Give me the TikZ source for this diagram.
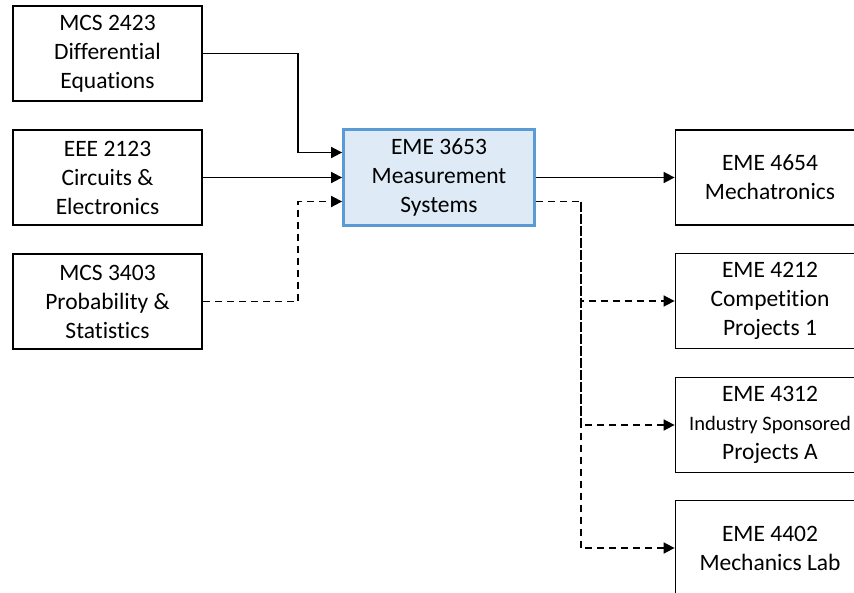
\documentclass[tikz,border=0pt]{standalone}
\usepackage{fontspec}
\setmainfont{Carlito}[Ligatures=NoCommon]
\usetikzlibrary{arrows.meta}

\definecolor{boxblue}{HTML}{5B9BD5}
\definecolor{boxfill}{HTML}{DEEBF7}

\tikzset{
  course/.style={draw=black, line width=1.8pt, fill=white, minimum width=189pt,
    minimum height=95pt, align=center, inner sep=2pt,
    font=\fontsize{23.5}{29}\selectfont},
  focus/.style={course, draw=boxblue, fill=boxfill, line width=2.8pt,
    minimum width=191pt, minimum height=96pt},
  link/.style={line width=1.7pt, -{Triangle[length=11pt,width=11pt]}},
  soft/.style={link, dash pattern=on 7pt off 5pt}
}

\begin{document}
\begin{tikzpicture}[x=1pt, y=-1pt]
  \useasboundingbox (0,0) rectangle (854,592);
  \clip (0,0) rectangle (854,592);

  % prerequisites
  \node[course] (mcs2423) at (107.5,53.5) {MCS 2423\\Differential\\Equations};
  \node[course] (eee2123) at (107.5,177.5) {EEE 2123\\Circuits \&\\Electronics};
  \node[course] (mcs3403) at (107.5,301.5) {MCS 3403\\Probability \&\\Statistics};

  % the course itself
  \node[focus] (eme3653) at (439,177.5) {EME 3653\\Measurement\\Systems};

  % follow-on courses
  \node[course] (eme4654) at (770,177.5) {EME 4654\\Mechatronics};
  \node[course] (eme4212) at (770,301) {EME 4212\\Competition\\Projects 1};
  \node[course] (eme4312) at (770,425) {EME 4312\\{\fontsize{20.5}{29}\selectfont Industry Sponsored}\\Projects A};
  \node[course] (eme4402) at (770,548) {EME 4402\\Mechanics Lab};

  % incoming
  \draw[link] (mcs2423.east) -- ++(95,0) |- ([yshift=25pt]eme3653.west);
  \draw[link] (eee2123.east) -- (eme3653.west);
  \draw[soft] (mcs3403.east) -- ++(95,0) |- ([yshift=-24pt]eme3653.west);

  % outgoing
  \draw[link] (eme3653.east) -- (eme4654.west);
  \draw[soft] ([yshift=-24pt]eme3653.east) -- ++(45,0) coordinate (bus) |- (eme4402.west);
  \draw[soft] (bus) |- (eme4212.west);
  \draw[soft] (bus) |- (eme4312.west);
\end{tikzpicture}
\end{document}
